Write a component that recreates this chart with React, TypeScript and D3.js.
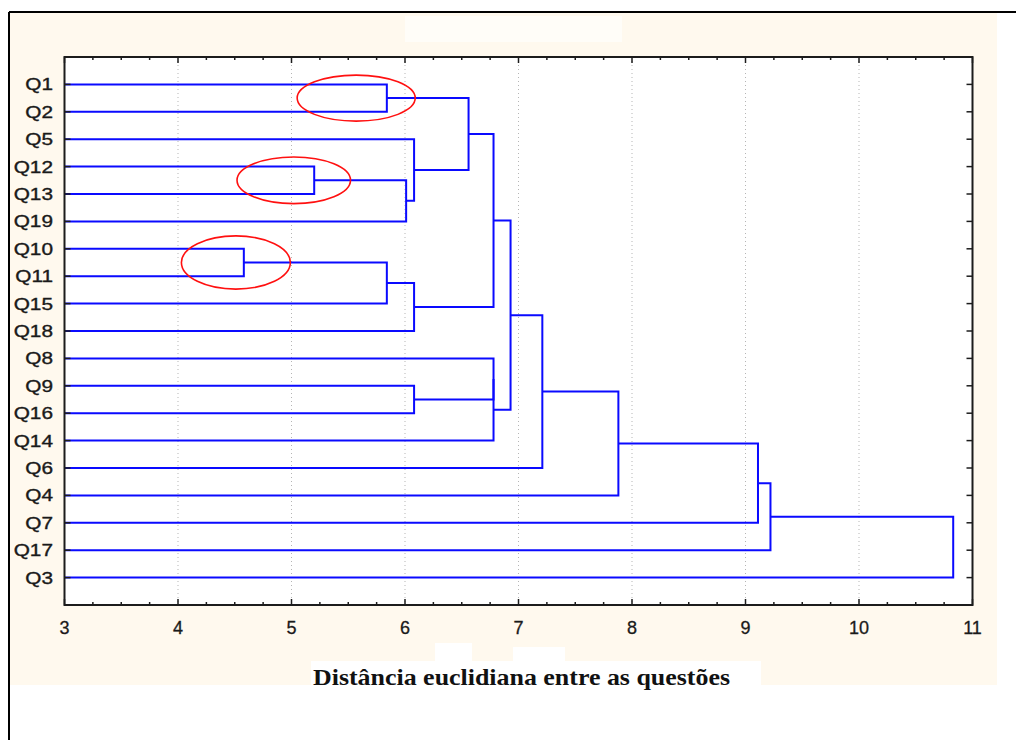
import * as d3 from "d3";

// leaf order top → bottom, as printed on the y axis
const leaves = [
  "Q1", "Q2", "Q5", "Q12", "Q13", "Q19", "Q10", "Q11", "Q15", "Q18",
  "Q8", "Q9", "Q16", "Q14", "Q6", "Q4", "Q7", "Q17", "Q3",
];

// linkage steps: [cluster a, cluster b, distance]
// ids 0..18 are leaves, each merge k creates cluster 19 + k
const merges: [number, number, number][] = [
  [0, 1, 5.84],    // 19  Q1+Q2
  [3, 4, 5.2],     // 20  Q12+Q13
  [6, 7, 4.58],    // 21  Q10+Q11
  [20, 5, 6.01],   // 22  +Q19
  [2, 22, 6.08],   // 23  Q5+
  [19, 23, 6.56],  // 24
  [21, 8, 5.84],   // 25  +Q15
  [25, 9, 6.08],   // 26  +Q18
  [24, 26, 6.78],  // 27
  [11, 12, 6.08],  // 28  Q9+Q16
  [10, 28, 6.78],  // 29  Q8+
  [29, 13, 6.78],  // 30  +Q14
  [27, 30, 6.93],  // 31
  [31, 14, 7.21],  // 32  +Q6
  [32, 15, 7.88],  // 33  +Q4
  [33, 16, 9.11],  // 34  +Q7
  [34, 17, 9.22],  // 35  +Q17
  [35, 18, 10.83], // 36  +Q3
];

const xTickValues = [3, 4, 5, 6, 7, 8, 9, 10, 11];
const gridValues = [4, 5, 6, 7, 8, 9, 10];
const axisTitle = "Distância euclidiana entre as questões";

// hand-drawn red rings around the three tightest pairs
const ringPairs: [string, string][] = [["Q1", "Q2"], ["Q12", "Q13"], ["Q10", "Q11"]];
const ringCenter = [5.57, 5.02, 4.51];   // distance units
const ringRadiusX = [0.52, 0.5, 0.48];   // distance units
const ringRadiusY = [0.84, 0.85, 0.97];  // in leaf steps

const W = 1016;
const H = 740;
const PLOT = { left: 64.5, right: 972.5, top: 57, bottom: 605 };
const CREAM = "#fff9ee";
const BLUE = "#0a0aff";
const INK = "#1a1a1a";

export default function App() {
  const x = d3.scaleLinear().domain([3, 11]).range([PLOT.left, PLOT.right]);
  const y = d3
    .scalePoint<string>()
    .domain(leaves)
    .range([PLOT.top, PLOT.bottom])
    .padding(1);
  const step = y.step();

  // walk the linkage, building elbow paths
  const nodes = leaves.map((l) => ({ x: x(3), y: y(l)! }));
  const links = merges.map(([a, b, h]) => {
    const na = nodes[a];
    const nb = nodes[b];
    const xm = x(h);
    nodes.push({ x: xm, y: (na.y + nb.y) / 2 });
    return `M${na.x},${na.y}H${xm}V${nb.y}H${nb.x}`;
  });

  const minorTicks = d3.range(3, 11.0001, 0.25).filter((v) => v % 1 !== 0);

  return (
    <svg
      width={W}
      height={H}
      style={{ position: "absolute", left: 0, top: 0, display: "block", background: "#fff" }}
    >
      {/* page backdrop + scan artefacts */}
      <rect x={9} y={12} width={988} height={673} fill={CREAM} />
      <rect x={405} y={16} width={217} height={26} fill="#fffdf8" />
      <rect x={311} y={661} width={450} height={24} fill="#fff" />
      <rect x={435} y={643} width={37} height={20} fill="#fff" />
      <rect x={513} y={647} width={52} height={16} fill="#fff" />
      <line x1={9} x2={W} y1={12} y2={12} stroke="#000" strokeWidth={2} />
      <line x1={9} x2={9} y1={12} y2={H} stroke="#000" strokeWidth={2} />

      {/* plot area */}
      <rect
        x={PLOT.left}
        y={PLOT.top}
        width={PLOT.right - PLOT.left}
        height={PLOT.bottom - PLOT.top}
        fill="#fff"
      />
      {gridValues.map((v) => (
        <line
          key={v}
          x1={x(v)}
          x2={x(v)}
          y1={PLOT.top + 4}
          y2={PLOT.bottom}
          stroke="#b5b5b5"
          strokeWidth={1}
          strokeDasharray="1 3"
        />
      ))}

      <g fill="none" stroke={BLUE} strokeWidth={2}>
        {links.map((d, i) => (
          <path key={i} d={d} />
        ))}
      </g>

      <g fill="none" stroke="#ff1010" strokeWidth={1.6}>
        {ringPairs.map(([a, b], i) => (
          <ellipse
            key={a}
            cx={x(ringCenter[i])}
            cy={(y(a)! + y(b)!) / 2}
            rx={x(ringCenter[i] + ringRadiusX[i]) - x(ringCenter[i])}
            ry={ringRadiusY[i] * step}
          />
        ))}
      </g>

      {/* frame + inward ticks */}
      <rect
        x={PLOT.left}
        y={PLOT.top}
        width={PLOT.right - PLOT.left}
        height={PLOT.bottom - PLOT.top}
        fill="none"
        stroke="#1c1c1c"
        strokeWidth={2}
      />
      <g stroke="#1c1c1c" strokeWidth={1.5}>
        {leaves.map((l) => (
          <g key={l}>
            <line x1={PLOT.left} x2={PLOT.left + 6} y1={y(l)} y2={y(l)} />
            <line x1={PLOT.right - 6} x2={PLOT.right} y1={y(l)} y2={y(l)} />
          </g>
        ))}
        {xTickValues.map((v) => (
          <g key={v}>
            <line x1={x(v)} x2={x(v)} y1={PLOT.top} y2={PLOT.top + 6} />
            <line x1={x(v)} x2={x(v)} y1={PLOT.bottom - 6} y2={PLOT.bottom} />
          </g>
        ))}
        {minorTicks.map((v) => (
          <g key={v}>
            <line x1={x(v)} x2={x(v)} y1={PLOT.top} y2={PLOT.top + 3} />
            <line x1={x(v)} x2={x(v)} y1={PLOT.bottom - 3} y2={PLOT.bottom} />
          </g>
        ))}
      </g>

      {/* leaf labels — the source font is wide, so stretch horizontally */}
      <g
        fontFamily="Arial, 'Liberation Sans', sans-serif"
        fontSize={16}
        fill={INK}
        stroke={INK}
        strokeWidth={0.35}
      >
        {leaves.map((l) => (
          <text
            key={l}
            transform={`translate(53, ${y(l)! + 6}) scale(1.3, 1)`}
            textAnchor="end"
          >
            {l}
          </text>
        ))}
      </g>

      <g
        fontFamily="Arial, 'Liberation Sans', sans-serif"
        fontSize={18}
        fill={INK}
        stroke={INK}
        strokeWidth={0.3}
      >
        {xTickValues.map((v) => (
          <text key={v} x={x(v)} y={634} textAnchor="middle">
            {v}
          </text>
        ))}
      </g>

      <text
        x={313}
        y={685}
        fontFamily="'Times New Roman', 'Liberation Serif', serif"
        fontWeight="bold"
        fontSize={24}
        fill="#111"
        textLength={417}
        lengthAdjust="spacingAndGlyphs"
      >
        {axisTitle}
      </text>
    </svg>
  );
}
